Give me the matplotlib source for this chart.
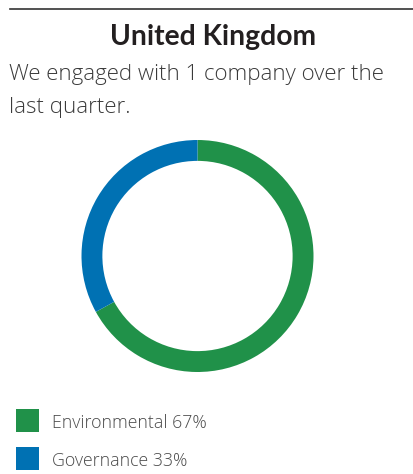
import matplotlib
matplotlib.use("Agg")
import matplotlib.pyplot as plt
from matplotlib.patches import Rectangle

# data
title = "United Kingdom"
subtitle = ["We engaged with 1 company over the", "last quarter."]
categories = ["Environmental", "Governance"]
shares = [67, 33]
colors = ["#209149", "#0071b3"]

W, H = 414, 474
fig = plt.figure(figsize=(W / 100, H / 100), dpi=100)
fig.patch.set_facecolor("white")

def fx(px):
    return px / W

def fy(py):
    return 1 - py / H

# top rule
fig.add_artist(plt.Line2D([fx(9.5), 1], [fy(8.5), fy(8.5)], color="#333333", lw=1.2))

fig.text(fx(213), fy(45), title, ha="center", va="baseline", fontsize=20.3,
         fontweight="bold", family="Lato", color="#231f20")
fig.text(fx(9), fy(80), subtitle[0], ha="left", va="baseline", fontsize=16,
         fontweight="light", family="Open Sans", color="#3a3a3a")
fig.text(fx(9), fy(113), subtitle[1], ha="left", va="baseline", fontsize=16,
         fontweight="light", family="Open Sans", color="#3a3a3a")

# donut
cx, cy, r = 197.5, 256, 116
ax = fig.add_axes([fx(cx - r), fy(cy + r), 2 * r / W, 2 * r / H])
ax.pie(shares, colors=colors, startangle=90, counterclock=False,
       wedgeprops=dict(width=0.18, edgecolor="none"))
ax.set_xlim(-1, 1)
ax.set_ylim(-1, 1)
ax.set_aspect("equal")
ax.axis("off")

# legend
for i, (cat, val, col) in enumerate(zip(categories, shares, colors)):
    top = 409 + i * 38
    fig.add_artist(Rectangle((fx(16), fy(top + 23)), 23 / W, 23 / H,
                             transform=fig.transFigure, color=col, lw=0))
    fig.text(fx(52), fy(top + 18.5), f"{cat} {val}%", ha="left", va="baseline",
             fontsize=12.8, fontweight="light", family="Open Sans", color="#4a4a4a")

fig.savefig("out.png", dpi=100)
